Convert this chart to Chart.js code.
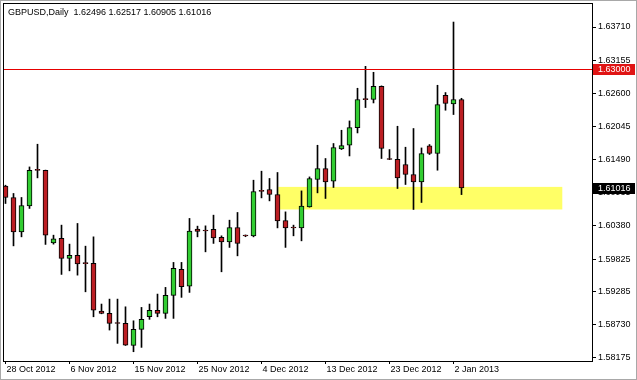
<!DOCTYPE html>
<html>
<head>
<meta charset="utf-8">
<title>GBPUSD Daily</title>
<script src="https://cdn.jsdelivr.net/npm/chart.js@4.4.0/dist/chart.umd.min.js"></script>
<style>
  body { margin: 0; background: #fff; }
  #wrap { width: 637px; height: 380px; }
</style>
</head>
<body>
<div id="wrap"><canvas id="gbpChart" width="637" height="380"></canvas></div>
<script>
const symbolTitle = 'GBPUSD,Daily';

const dates = [
  '28 Oct 2012', '29 Oct 2012', '30 Oct 2012', '31 Oct 2012', '1 Nov 2012', '2 Nov 2012', '4 Nov 2012', '5 Nov 2012',
  '6 Nov 2012', '7 Nov 2012', '8 Nov 2012', '9 Nov 2012', '11 Nov 2012', '12 Nov 2012', '13 Nov 2012', '14 Nov 2012',
  '15 Nov 2012', '16 Nov 2012', '18 Nov 2012', '19 Nov 2012', '20 Nov 2012', '21 Nov 2012', '22 Nov 2012', '23 Nov 2012',
  '25 Nov 2012', '26 Nov 2012', '27 Nov 2012', '28 Nov 2012', '29 Nov 2012', '30 Nov 2012', '2 Dec 2012', '3 Dec 2012',
  '4 Dec 2012', '5 Dec 2012', '6 Dec 2012', '7 Dec 2012', '9 Dec 2012', '10 Dec 2012', '11 Dec 2012', '12 Dec 2012',
  '13 Dec 2012', '14 Dec 2012', '16 Dec 2012', '17 Dec 2012', '18 Dec 2012', '19 Dec 2012', '20 Dec 2012', '21 Dec 2012',
  '23 Dec 2012', '24 Dec 2012', '26 Dec 2012', '27 Dec 2012', '28 Dec 2012', '30 Dec 2012', '31 Dec 2012', '1 Jan 2013',
  '2 Jan 2013', '3 Jan 2013'
];

const opens = [
  1.61046, 1.60857, 1.60282, 1.60716, 1.61315, 1.61310, 1.60098, 1.60171, 1.59837, 1.59887,
  1.59753, 1.59753, 1.58956, 1.58917, 1.58752, 1.58750, 1.58382, 1.58649, 1.58860, 1.58967,
  1.58917, 1.59218, 1.59653, 1.59374, 1.60327, 1.60300, 1.60322, 1.60188, 1.60114, 1.60355,
  1.60215, 1.60215, 1.60962, 1.60990, 1.60907, 1.60472, 1.60350, 1.60348, 1.60700, 1.61158,
  1.61342, 1.61129, 1.61669, 1.61731, 1.62027, 1.62498, 1.62496, 1.62718, 1.61509, 1.61497,
  1.61409, 1.61241, 1.61118, 1.61720, 1.61593, 1.62567, 1.62422, 1.62496
];
const highs = [
  1.61062, 1.60924, 1.60857, 1.61368, 1.61748, 1.61315, 1.60226, 1.60394, 1.60076, 1.60422,
  1.60042, 1.60198, 1.59073, 1.59156, 1.59156, 1.59027, 1.58793, 1.59017, 1.59073, 1.59240,
  1.59352, 1.59770, 1.59770, 1.60506, 1.60377, 1.60382, 1.60561, 1.60215, 1.60477, 1.60606,
  1.60230, 1.61146, 1.61297, 1.61175, 1.61275, 1.60616, 1.60394, 1.60967, 1.61201, 1.61731,
  1.61509, 1.61760, 1.61982, 1.62138, 1.62685, 1.63052, 1.62952, 1.62725, 1.61659, 1.62049,
  1.61698, 1.62011, 1.61686, 1.61743, 1.62735, 1.62613, 1.63793, 1.62517
];
const lows = [
  1.60756, 1.60047, 1.60198, 1.60673, 1.61185, 1.60071, 1.60076, 1.59569, 1.59629, 1.59557,
  1.59278, 1.58860, 1.58910, 1.58638, 1.58415, 1.58380, 1.58275, 1.58348, 1.58817, 1.58860,
  1.58833, 1.58833, 1.59185, 1.59268, 1.60198, 1.59947, 1.60088, 1.59613, 1.60021, 1.59880,
  1.60200, 1.60198, 1.60850, 1.60800, 1.60348, 1.60021, 1.60215, 1.60131, 1.60695, 1.60934,
  1.60840, 1.61024, 1.61659, 1.61552, 1.61937, 1.62362, 1.62439, 1.61509, 1.61490, 1.61007,
  1.61074, 1.60656, 1.60773, 1.61576, 1.61313, 1.62317, 1.62245, 1.60905
];
const closes = [
  1.60857, 1.60282, 1.60723, 1.61313, 1.61310, 1.60226, 1.60164, 1.59837, 1.59887, 1.59746,
  1.59750, 1.58972, 1.58917, 1.58750, 1.58748, 1.58387, 1.58649, 1.58817, 1.58967, 1.58917,
  1.59218, 1.59670, 1.59362, 1.60293, 1.60288, 1.60296, 1.60181, 1.60114, 1.60355, 1.60088,
  1.60212, 1.60957, 1.60958, 1.60907, 1.60466, 1.60348, 1.60346, 1.60711, 1.61175, 1.61342,
  1.61118, 1.61693, 1.61726, 1.62027, 1.62496, 1.62494, 1.62718, 1.61676, 1.61492, 1.61185,
  1.61241, 1.61118, 1.61593, 1.61593, 1.62412, 1.62429, 1.62496, 1.61016
];

const yTicks = [1.58175, 1.58730, 1.59285, 1.59825, 1.60380, 1.60935, 1.61490, 1.62045, 1.62600, 1.63155, 1.63710];
const xTickIdx = [0, 8, 16, 24, 32, 40, 48, 56];

// horizontal resistance line + support zone
const resistance = 1.63000;
const zoneFrom = 34.1, zoneTo = 69.6;
const zoneLow = 1.60656, zoneHigh = 1.61034;

const BULL = '#32cd32';
const BEAR = '#bb1e23';
const FONT = '"Liberation Sans", Arial, sans-serif';

const bodies = opens.map((o, i) => ({ x: i, y: [Math.min(o, closes[i]), Math.max(o, closes[i])] }));
const wicks = lows.map((l, i) => ({ x: i, y: [l, highs[i]] }));
const bodyColors = closes.map((c, i) => (c >= opens[i] ? BULL : BEAR));

const fmt = v => Number(v).toFixed(5);

function priceTag(ctx, y, value, bg) {
  const cy = Math.round(y.getPixelForValue(value));
  ctx.fillStyle = bg;
  ctx.fillRect(593, cy - 5, 42, 11);
  ctx.fillStyle = '#ffffff';
  ctx.font = '9px ' + FONT;
  ctx.textBaseline = 'middle';
  ctx.textAlign = 'left';
  ctx.fillText(fmt(value), 598, cy + 0.5);
}

// no extra room for edge labels, keep the plot box fixed
function noPad(scale) {
  scale.paddingTop = 0;
  scale.paddingBottom = 0;
  scale.paddingLeft = 0;
  scale.paddingRight = 0;
}

const chartDecor = {
  id: 'chartDecor',
  beforeDatasetsDraw(chart) {
    const { ctx, scales: { x, y } } = chart;
    ctx.save();
    // yellow zone
    const x1 = x.getPixelForValue(zoneFrom), x2 = x.getPixelForValue(zoneTo);
    const y1 = y.getPixelForValue(zoneHigh), y2 = y.getPixelForValue(zoneLow);
    ctx.fillStyle = '#ffff66';
    ctx.fillRect(x1, y1, x2 - x1, y2 - y1);
    ctx.restore();
  },
  afterDraw(chart) {
    const { ctx, chartArea, scales: { y } } = chart;
    ctx.save();
    // resistance line
    const ry = Math.round(y.getPixelForValue(resistance));
    ctx.fillStyle = '#e60000';
    ctx.fillRect(chartArea.left, ry, chartArea.right - chartArea.left, 1);
    // outer window frame
    ctx.strokeStyle = '#a8a8a8';
    ctx.lineWidth = 1;
    ctx.strokeRect(0.5, 0.5, chart.width - 1, chart.height - 1);
    // plot box
    ctx.strokeStyle = '#000000';
    ctx.strokeRect(chartArea.left - 0.5, chartArea.top - 0.5,
      chartArea.right - chartArea.left + 1, chartArea.bottom - chartArea.top + 1);
    // title with last bar OHLC
    const n = closes.length - 1;
    ctx.fillStyle = '#000000';
    ctx.font = '9px ' + FONT;
    ctx.textBaseline = 'middle';
    ctx.fillText(symbolTitle + '  ' + [opens[n], highs[n], lows[n], closes[n]].map(fmt).join(' '), 8, 13);
    // price tags on the right axis
    priceTag(ctx, y, resistance, '#e01414');
    priceTag(ctx, y, closes[n], '#000000');
    ctx.restore();
  }
};

new Chart(document.getElementById('gbpChart'), {
  type: 'bar',
  data: {
    datasets: [
      {
        label: 'body',
        data: bodies,
        backgroundColor: bodyColors,
        borderColor: '#000000',
        borderWidth: 1,
        borderSkipped: false,
        barThickness: 5,
        minBarLength: 1,
        grouped: false,
        order: 1
      },
      {
        label: 'wick',
        data: wicks,
        backgroundColor: '#000000',
        borderWidth: 0,
        barThickness: 1,
        grouped: false,
        order: 2
      }
    ]
  },
  options: {
    responsive: false,
    devicePixelRatio: 1,
    animation: false,
    layout: { padding: { left: 4, top: 4, right: 0, bottom: 0 } },
    plugins: {
      legend: { display: false },
      tooltip: { enabled: false }
    },
    scales: {
      x: {
        type: 'linear',
        offset: false,
        min: -0.1875,
        max: 73.3125,
        afterFit(scale) { scale.height = 19; noPad(scale); },
        afterBuildTicks(scale) { scale.ticks = xTickIdx.map(v => ({ value: v })); },
        border: { display: false },
        grid: { display: true, drawOnChartArea: false, tickLength: 3, color: '#000000', offset: false },
        ticks: {
          autoSkip: false,
          maxRotation: 0,
          align: 'start',
          labelOffset: 1,
          padding: 0,
          color: '#000000',
          font: { family: FONT, size: 9 },
          callback: v => dates[v] || ''
        }
      },
      y: {
        type: 'linear',
        position: 'right',
        min: 1.58120,
        max: 1.64095,
        beginAtZero: false,
        afterFit(scale) { scale.width = 45; noPad(scale); },
        afterBuildTicks(scale) { scale.ticks = yTicks.map(v => ({ value: v })); },
        border: { display: false },
        grid: { display: true, drawOnChartArea: false, tickLength: 4, color: '#000000' },
        ticks: {
          autoSkip: false,
          padding: 2,
          color: '#000000',
          font: { family: FONT, size: 9 },
          callback: v => fmt(v)
        }
      }
    }
  },
  plugins: [chartDecor]
});
</script>
</body>
</html>
